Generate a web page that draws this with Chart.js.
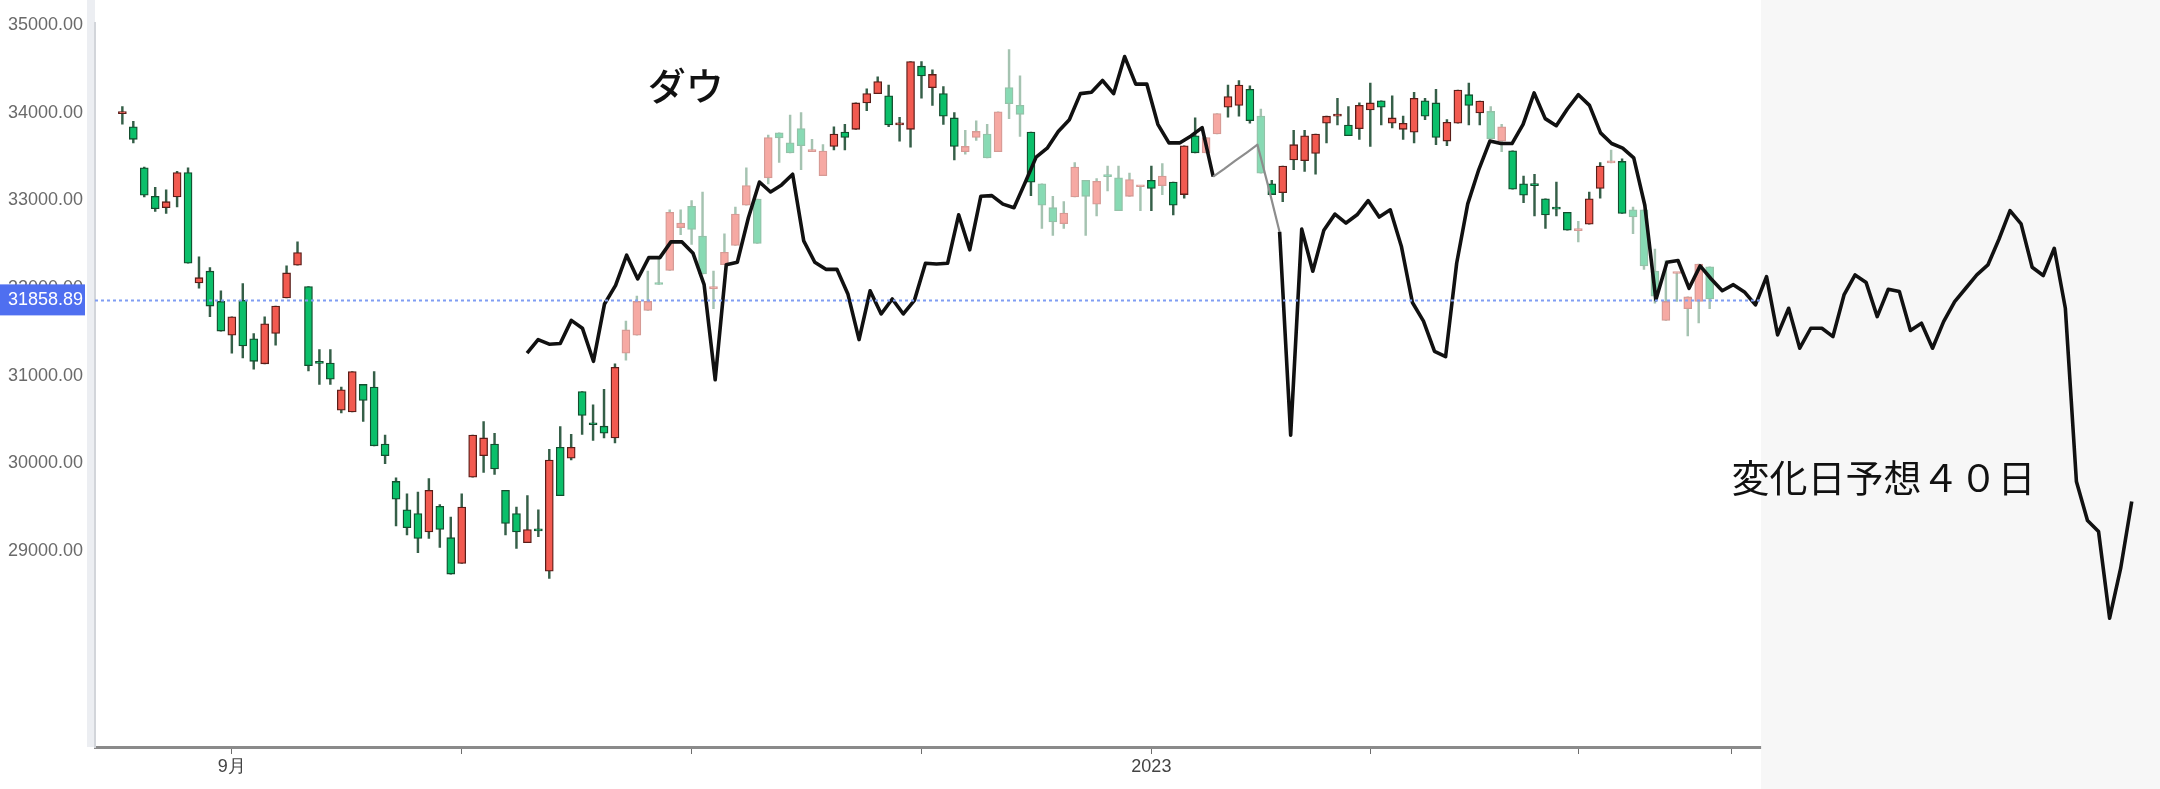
<!DOCTYPE html>
<html><head><meta charset="utf-8">
<script src="https://cdn.jsdelivr.net/npm/chart.js@4.4.1/dist/chart.umd.min.js"></script>
<style>html,body{margin:0;padding:0;background:#fff;overflow:hidden}#wrap{width:2160px;height:789px}</style>
</head><body><div id="wrap"><canvas id="c" width="2160" height="789" style="width:2160px;height:789px"></canvas></div>
<script>
// ---- data ----
const opens  = [33990,33839,33371,33046,32916,33038,33318,32058,32192,31847,31461,31859,31420,31135,31481,31887,32261,32017,31150,31143,30607,30587,30900,30871,30221,
  29794,29469,29428,29217,29510,29152,28859,29843,30087,30221,29693,29428,29095,29240,28770,30184,30058,30818,30450,30424,30290,31257,31461,31745,32060,
  32200,32688,32932,32591,31990,32265,32485,32944,33014,33257,33770,33656,33818,33555,33282,33615,33778,33810,34111,34217,34192,33860,33810,34530,
  34286,34217,33940,33554,33717,33757,33554,34286,34083,33778,33188,32916,32733,33038,33229,32957,33281,33257,33046,33155,33229,33168,33209,33066,33737,
  33542,33757,34062,34083,34266,33960,33188,33087,33460,33452,33534,33879,33960,33859,33818,34030,34135,33879,33810,33778,34135,34111,33676,33879,34205,
  33998,34014,33676,33566,33188,33180,33018,32912,32863,32655,32729,33135,33428,33444,32892,32892,32192,31631,32165,31765,31847,32241];
const highs  = [34070,33900,33380,33148,33119,33330,33370,32355,32233,31969,31672,32050,31481,31672,31794,32253,32526,32017,31298,31298,30871,31046,30900,31046,30322,
  29834,29652,29672,29827,29530,29388,29652,30322,30477,30343,29693,29502,29631,29469,30160,30420,30331,30818,30668,30843,31135,31624,31908,32192,32335,
  32892,32892,32997,33095,32192,32619,32924,33371,33014,33745,33770,33973,34001,33696,33635,33839,33867,34111,34273,34408,34314,33948,34583,34583,
  34489,34298,34001,33798,33908,33867,34009,34721,34420,33778,33188,33046,32985,33432,33229,33249,33391,33391,33310,33165,33391,33420,33209,33623,33940,
  33717,33989,34314,34367,34306,34042,33229,33391,33798,33798,33757,33960,34164,34070,34111,34338,34135,34192,33960,34233,34164,34266,33920,34257,34338,
  34132,34070,33867,33566,33278,33298,33018,33209,32863,32762,33095,33432,33574,33473,32924,32892,32444,32314,32175,31899,32274,32241];
const lows   = [33870,33656,33040,32875,32851,32924,32282,31997,31672,31509,31257,31204,31074,31135,31347,31887,32261,31054,30900,30900,30574,30587,30477,30200,29997,
  29286,29185,28981,29144,29042,28737,28859,29843,29896,29875,29185,29030,29095,29164,28688,29632,30038,30331,30261,30290,30233,31176,31461,31745,32040,
  32200,32607,32497,32160,31765,32265,32485,32944,32509,33188,33432,33542,33351,33555,33282,33574,33574,33810,34022,34217,33839,33676,33607,34164,
  34083,33867,33461,33526,33684,33485,33554,33932,33729,33054,32680,32599,32680,33038,32599,32822,33107,32883,33046,32883,32883,33066,32834,33026,33542,
  33542,33757,33948,33960,33879,33310,33066,32985,33351,33330,33298,33656,33859,33737,33696,33615,33859,33826,33696,33656,33920,33635,33623,33879,33859,
  33859,33704,33554,33127,32973,32822,32680,32822,32660,32526,32729,33026,33428,32851,32619,32213,31826,31631,31847,31453,31603,31765];
const closes = [34005,33696,33058,32904,32985,33318,32282,32118,31794,31509,31672,31339,31164,31591,31794,32172,32404,31115,31140,30961,30839,31046,30717,30200,30087,
  29591,29266,29144,29693,29245,28737,29502,30322,30290,29936,29315,29217,29245,29230,30038,29632,30184,30546,30440,30343,31095,31522,31847,31847,32040,
  32863,32741,32668,32160,32017,32408,32843,33168,32509,33717,33713,33542,33623,33567,33562,33757,33717,34111,34217,34355,33859,33870,34583,34420,
  34436,33960,33615,33615,33786,33485,34009,34103,33981,33208,32944,32753,32855,33379,33046,33217,33270,32883,33237,33165,33135,33278,32944,33623,33542,
  33717,33989,34184,34314,33908,33310,33066,33391,33635,33737,33757,33960,33973,33737,34083,34111,34062,33940,33879,34164,33960,33717,33891,34257,34083,
  34132,33704,33839,33127,33058,33168,32834,32900,32660,32665,33018,33391,33436,32851,32810,32253,31908,31847,32175,31899,32274,31875];
// black forecast line (one value per step)
const forecast = [31257,31412,31359,31367,31631,31542,31164,31818,32030,32375,32103,32347,32347,
  32526,32526,32396,32038,30953,32265,32294,32802,33209,33095,33176,33298,32538,32294,32213,32213,31928,31412,31969,31704,31875,31704,31859,32282,
  32274,32282,32835,32436,33046,33054,32957,32916,33200,33493,33595,33786,33920,34217,34233,34367,34217,34640,34326,34326,33867,33656,33656,33735,33830,
  33270,33359,33453,33542,33635,33148,32640,30322,32672,32192,32660,32843,32741,32835,32997,32810,32892,32477,31835,31623,31278,31217,32282,32960,
  33351,33676,33648,33648,33867,34225,33932,33851,34042,34205,34083,33770,33648,33595,33485,32944,31867,32294,32314,31997,32253,32103,31969,32038,31955,
  31807,32130,31465,31769,31313,31541,31541,31446,31921,32149,32062,31674,31986,31959,31515,31598,31313,31617,31845,31997,32149,32263,32556,32883,32731,
  32237,32142,32453,31769,29793,29348,29222,28234,28804,29565];
const yTicks = [29000,30000,31000,32000,33000,34000,35000];
const monthStarts = [10,31,52,73,94,114,133,147];
const monthLabels = ['9月','','','','2023','','',''];
const lastPrice = 31858.89;
const titleText = 'ダウ';
const noteText = '変化日予想４０日';

// ---- layout / style settings ----
const LEAD = 2, SLOTS = 188;
const paleRanges = [[46,64],[77,82],[84,93],[95,95],[99,100],[104,104],[125,126],[133,133],[136,136],[138,145]];
const fadedLine = [62,68];
const shadeFromIdx = 149.7;
const titlePos = {idx: 48, value: 34304};
const notePos = {idx: 147, value: 29835};

const isPale = i => paleRanges.some(r => i >= r[0] && i <= r[1]);
const slotLabels = Array.from({length: SLOTS}, (_, s) => String(s));
const idxOf = s => s - LEAD;
const bodies = slotLabels.map((_, s) => { const i = idxOf(s); return (i >= 0 && i < opens.length) ? [opens[i], closes[i]] : null; });
const wicks  = slotLabels.map((_, s) => { const i = idxOf(s); return (i >= 0 && i < opens.length) ? [lows[i], highs[i]] : null; });
const up = i => closes[i] >= opens[i];
const bodyFill = ctx => { const i = idxOf(ctx.dataIndex); if (i < 0 || i >= opens.length) return 'rgba(0,0,0,0)';
  return isPale(i) ? (up(i) ? '#f6a9a3' : '#88dab4') : (up(i) ? '#f25a50' : '#0bbf6a'); };
const bodyEdge = ctx => { const i = idxOf(ctx.dataIndex); if (i < 0 || i >= opens.length) return 'rgba(0,0,0,0)';
  return isPale(i) ? (up(i) ? '#d69a95' : '#93c2a8') : (up(i) ? '#5a1d18' : '#134e2e'); };
const wickCol = ctx => { const i = idxOf(ctx.dataIndex); if (i < 0 || i >= opens.length) return 'rgba(0,0,0,0)';
  return isPale(i) ? '#a5c3b1' : '#355f48'; };

const FONT_UI = '"Liberation Sans", Arial, sans-serif';
const FONT_JP = '"Noto Sans CJK JP", "Noto Sans CJK SC", sans-serif';

const decor = {
  id: 'decor',
  beforeDraw(chart) {
    const {ctx, chartArea} = chart;
    ctx.save();
    ctx.fillStyle = '#ffffff';
    ctx.fillRect(0, 0, chart.width, chart.height);
    ctx.fillStyle = '#eceef2';
    ctx.fillRect(chartArea.left - 8, 0, 8, chartArea.bottom);
    ctx.restore();
  },
  beforeDatasetsDraw(chart) {
    const {ctx} = chart;
    const xs = chart.scales.x;
    const sx = xs.getPixelForValue(shadeFromIdx + LEAD);
    ctx.save();
    ctx.fillStyle = '#f7f7f7';
    ctx.fillRect(sx, 0, chart.width - sx, chart.height);
    ctx.restore();
  },
  afterDatasetsDraw(chart) {
    const {ctx, chartArea} = chart;
    const xs = chart.scales.x, ys = chart.scales.y;
    const sx = xs.getPixelForValue(shadeFromIdx + LEAD);
    const py = ys.getPixelForValue(lastPrice);
    ctx.save();
    ctx.strokeStyle = '#7f9df3';
    ctx.lineWidth = 2;
    ctx.setLineDash([3, 3]);
    ctx.beginPath(); ctx.moveTo(chartArea.left, py); ctx.lineTo(sx, py); ctx.stroke();
    ctx.setLineDash([]);
    ctx.fillStyle = '#4f6ff0';
    ctx.fillRect(0, py - 16, chartArea.left - 10, 31);
    ctx.fillStyle = '#ffffff';
    ctx.font = '18px ' + FONT_UI;
    ctx.textAlign = 'right'; ctx.textBaseline = 'middle';
    ctx.fillText(lastPrice.toFixed(2), chartArea.left - 12, py);
    ctx.fillStyle = '#111';
    ctx.textAlign = 'left';
    ctx.font = '500 38px ' + FONT_JP;
    ctx.fillText(titleText, xs.getPixelForValue(titlePos.idx + LEAD), ys.getPixelForValue(titlePos.value));
    ctx.font = '400 38px ' + FONT_JP;
    ctx.fillText(noteText, xs.getPixelForValue(notePos.idx + LEAD), ys.getPixelForValue(notePos.value));
    ctx.restore();
  }
};

const chart = new Chart(document.getElementById('c'), {
  type: 'bar',
  data: {
    labels: slotLabels,
    datasets: [
      { type: 'line', label: 'forecast', xAxisID: 'x2', yAxisID: 'y', order: 0,
        data: forecast.map((v, k) => ({x: k, y: v})),
        borderColor: '#111111', borderWidth: 3.6, pointRadius: 0, tension: 0, fill: false,
        borderJoinStyle: 'round',
        segment: {
          borderColor: c => (c.p0DataIndex >= fadedLine[0] && c.p0DataIndex < fadedLine[1]) ? '#8d8d8d' : undefined,
          borderWidth: c => (c.p0DataIndex >= fadedLine[0] && c.p0DataIndex < fadedLine[1]) ? 2.2 : undefined
        } },
      { label: 'body', data: bodies, xAxisID: 'x', yAxisID: 'y', order: 1, grouped: false,
        barThickness: 8, minBarLength: 2, borderWidth: 1.3, borderSkipped: false,
        backgroundColor: bodyFill, borderColor: bodyEdge },
      { label: 'wick', data: wicks, xAxisID: 'x', yAxisID: 'y', order: 2, grouped: false,
        barThickness: 1.8, borderWidth: 0, backgroundColor: wickCol }
    ]
  },
  options: {
    responsive: false, animation: false, devicePixelRatio: 1,
    layout: { padding: { left: 0, right: 7, top: 0, bottom: 0 } },
    plugins: { legend: { display: false }, tooltip: { enabled: false }, title: { display: false } },
    scales: {
      x: { type: 'category', offset: true,
        grid: { display: true, drawOnChartArea: false, drawTicks: true, tickLength: 7, offset: false, color: '#6d6d6d', lineWidth: 1 },
        border: { display: true, color: '#8a8a8a', width: 3 },
        ticks: { autoSkip: false, maxRotation: 0, minRotation: 0, padding: 2, color: '#444', font: { size: 18, family: FONT_UI },
          callback: function(v) { const k = monthStarts.indexOf(v - LEAD); return k >= 0 ? monthLabels[k] : ''; } },
        afterBuildTicks: ax => { ax.ticks = monthStarts.map(i => ({ value: i + LEAD })); },
        afterFit: ax => { ax.height = 42; } },
      x2: { type: 'linear', axis: 'x', display: false, offset: false, bounds: 'ticks', min: -39.04, max: 146.92,
        grid: { offset: false } },
      y: { type: 'linear', position: 'left', min: 26767, max: 35285,
        grid: { display: false, drawTicks: false },
        border: { display: true, color: '#d2d5da', width: 2 },
        ticks: { padding: 12, color: '#6a6a6a', font: { size: 18, family: FONT_UI },
          callback: v => Number(v).toFixed(2) },
        afterBuildTicks: ax => { ax.ticks = yTicks.map(v => ({ value: v })); },
        afterFit: ax => { ax.width = 95; } }
    }
  },
  plugins: [decor]
});
// keep the value-to-height mapping of the picture: 35000 at 25px, 87.67px per 1000
(function fitY() {
  const a = chart.chartArea, per = 0.08767;
  chart.options.scales.y.max = 35000 + (25 - a.top) / per;
  chart.options.scales.y.min = 35000 - (a.bottom - 25) / per;
  chart.update('none');
})();
</script></body></html>
